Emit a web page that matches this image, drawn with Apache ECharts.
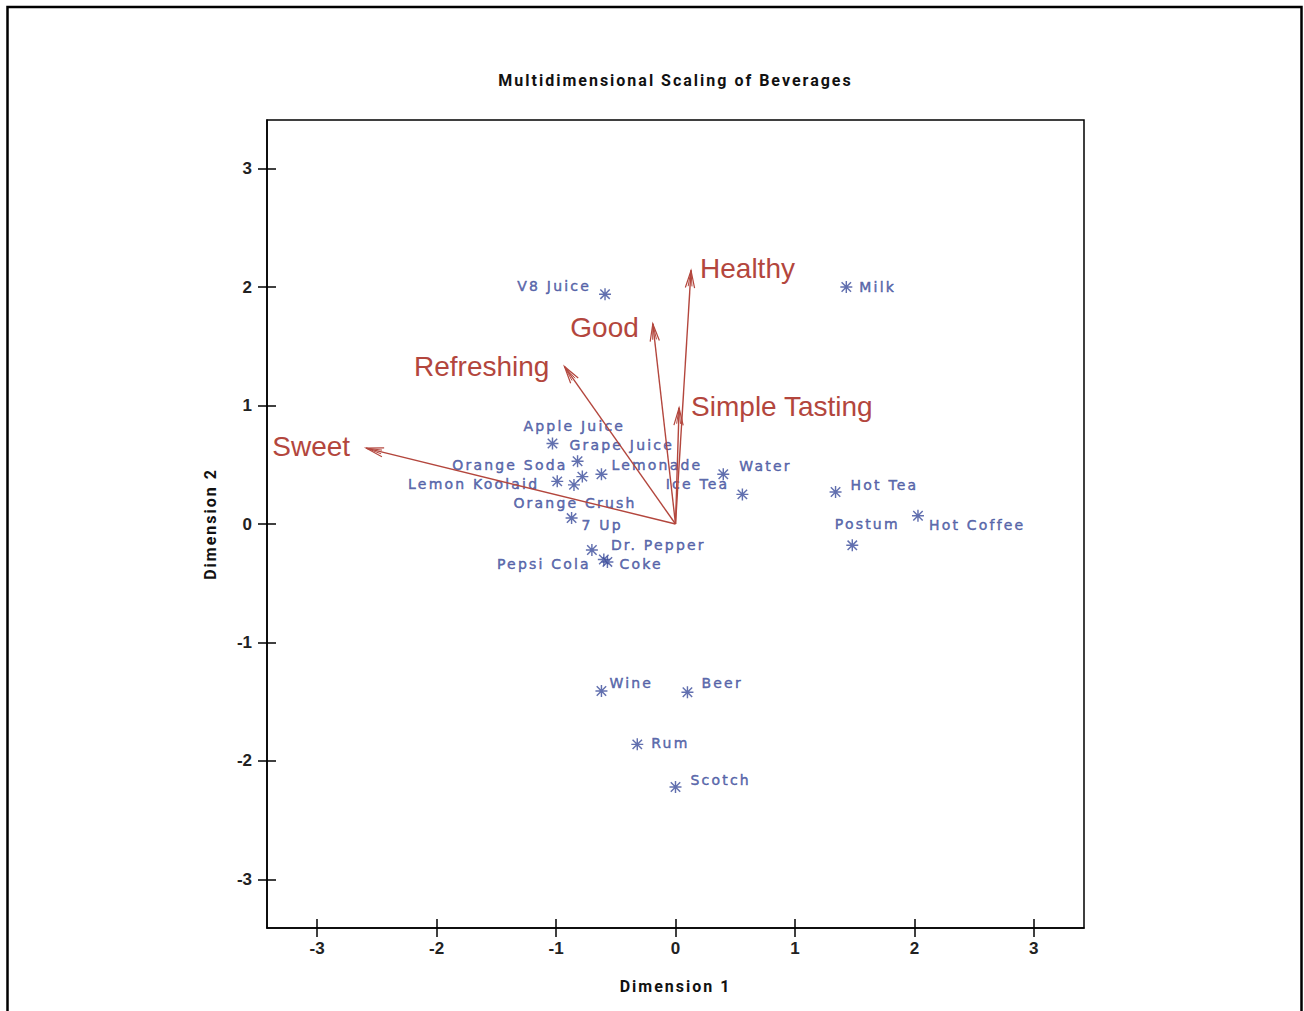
<!DOCTYPE html>
<html><head><meta charset="utf-8">
<script src="https://cdn.jsdelivr.net/npm/echarts@6/dist/echarts.min.js"></script>
<style>
html,body{margin:0;padding:0;background:#fff;}
#chart{width:1304px;height:1011px;}
#chart text[style*="DejaVu Sans"]{letter-spacing:2.2px;}
#chart text[style*="Roboto"]{letter-spacing:2px;}
</style></head><body><div id="chart"></div>
<script>
// ---- data ----
const beverages = ['V8 Juice','Milk','Grape Juice','Orange Soda','Apple Juice','Lemonade','Lemon Koolaid','Orange Crush','7 Up','Dr. Pepper','Pepsi Cola','Coke','Water','Ice Tea','Hot Tea','Hot Coffee','Postum','Wine','Beer','Rum','Scotch'];
const dim1 = [-0.59, 1.43, -1.03, -0.82, -0.78, -0.62, -0.99, -0.85, -0.87, -0.70, -0.60, -0.57, 0.40, 0.56, 1.34, 2.03, 1.48, -0.62, 0.10, -0.32, 0.00];
const dim2 = [1.94, 2.00, 0.68, 0.53, 0.40, 0.42, 0.36, 0.33, 0.05, -0.22, -0.30, -0.32, 0.42, 0.25, 0.27, 0.07, -0.18, -1.41, -1.42, -1.86, -2.22];
const attributes = ['Sweet','Refreshing','Good','Healthy','Simple Tasting'];
const attrDim1 = [-2.59, -0.93, -0.19, 0.13, 0.03];
const attrDim2 = [0.64, 1.33, 1.69, 2.14, 0.98];
const tickValues = [-3, -2, -1, 0, 1, 2, 3];
const titleText = 'Multidimensional Scaling of Beverages';
const xTitle = 'Dimension 1';
const yTitle = 'Dimension 2';

// ---- label placement (style only): [align, dx, dy] in px from the mark ----
const bevLabelPlace = [
  ['right',-14,-8],['left',13,0],['left',17,2],['right',-10,4],['center',-8,-51],
  ['left',10,-9],['right',-18,3],['center',1,18],['left',10,7],['left',19,-5],
  ['right',-13,4],['left',12,2],['left',16,-8],['right',-13,-10],['left',15,-7],
  ['left',11,9],['center',15,-21],['left',8,-8],['left',14,-9],['left',14,-1],['left',15,-7]
];
const attrLabelPlace = [['right',-16,-2],['right',-15,0],['right',-14,4],['left',9,-2],['left',12,-1]];

const BLUE = '#3b4c9b', RED = '#b3463d';
const STAR = 'path://M0 8.8H20V11.2H0Z M8.8 0H11.2V20H8.8Z M1.3 3L3 1.3L18.7 17L17 18.7Z M17 1.3L18.7 3L3 18.7L1.3 17Z';

const chart = echarts.init(document.getElementById('chart'), null, {renderer: 'svg'});

const bevData = beverages.map((n, i) => ({
  name: n,
  value: [dim1[i], dim2[i]],
  label: {align: bevLabelPlace[i][0], offset: [bevLabelPlace[i][1], bevLabelPlace[i][2]]}
}));
const attrData = attributes.map((n, i) => [attrDim1[i], attrDim2[i]]);

const axisCommon = {
  type: 'value',
  splitLine: {show: false},
  axisLine: {onZero: false, lineStyle: {color: '#000', width: 1.5}},
  axisTick: {customValues: tickValues, length: 9, lineStyle: {color: '#000', width: 1.5}},
};
const nameStyle = {fontFamily: 'Roboto', fontWeight: 'bold', fontSize: 16, color: '#111'};
const labStyle = {customValues: tickValues, fontFamily: 'Liberation Sans', fontWeight: 'bold', fontSize: 17, color: '#222'};

chart.setOption({
  animation: false,
  backgroundColor: '#fff',
  grid: {left: 267, right: 220, top: 120, bottom: 83, show: true, borderColor: '#000', borderWidth: 1.5, backgroundColor: 'transparent'},
  graphic: [
    {type: 'rect', shape: {x: 7.5, y: 7, width: 1294, height: 1100}, style: {fill: 'none', stroke: '#000', lineWidth: 2.5}, silent: true},
    {type: 'text', x: 675.5, y: 80, style: {text: titleText, font: 'bold 16px Roboto', fill: '#111', textAlign: 'center', textVerticalAlign: 'middle', align: 'center', verticalAlign: 'middle'}, silent: true}
  ],
  xAxis: [
    Object.assign({}, axisCommon, {min: -3.42, max: 3.42, position: 'bottom',
      axisLabel: Object.assign({margin: 12}, labStyle),
      name: xTitle, nameLocation: 'middle', nameGap: 50, nameTextStyle: nameStyle}),
    {type: 'value', min: -3.42, max: 3.42, position: 'bottom', splitLine: {show: false},
      axisLine: {show: false, onZero: false},
      axisTick: {customValues: tickValues, inside: true, length: 9, lineStyle: {color: '#000', width: 1.5}},
      axisLabel: {show: false}}
  ],
  yAxis: [
    Object.assign({}, axisCommon, {min: -3.41, max: 3.41, position: 'left',
      axisLabel: Object.assign({margin: 15}, labStyle),
      name: yTitle, nameLocation: 'middle', nameGap: 49, nameRotate: 90, nameTextStyle: nameStyle}),
    {type: 'value', min: -3.41, max: 3.41, position: 'left', splitLine: {show: false},
      axisLine: {show: false, onZero: false},
      axisTick: {customValues: tickValues, inside: true, length: 9, lineStyle: {color: '#000', width: 1.5}},
      axisLabel: {show: false}}
  ],
  series: [
    {
      type: 'scatter', xAxisIndex: 0, yAxisIndex: 0, z: 2,
      symbol: STAR, symbolSize: 12,
      itemStyle: {color: BLUE},
      label: {show: true, position: 'inside', formatter: '{b}', color: BLUE,
        fontFamily: 'DejaVu Sans', fontSize: 14, verticalAlign: 'middle',
        textBorderColor: BLUE, textBorderWidth: 0.5},
      emphasis: {disabled: true},
      data: bevData
    },
    {
      type: 'custom', xAxisIndex: 0, yAxisIndex: 0, z: 3, silent: true,
      data: attrData,
      encode: {x: 0, y: 1},
      renderItem: function (params, api) {
        const i = params.dataIndex;
        const tip = api.coord([api.value(0), api.value(1)]);
        const o = api.coord([0, 0]);
        const ang = Math.atan2(o[1] - tip[1], o[0] - tip[0]);
        const barb = (da, len) => [tip[0] + len * Math.cos(ang + da), tip[1] + len * Math.sin(ang + da)];
        const p = attrLabelPlace[i];
        return {
          type: 'group',
          children: [
            {type: 'line', shape: {x1: o[0], y1: o[1], x2: tip[0], y2: tip[1]}, style: {stroke: RED, lineWidth: 1.4}},
            {type: 'polyline', shape: {points: [barb(0.26, 18), tip, barb(-0.26, 18)]}, style: {stroke: RED, lineWidth: 1.2, fill: 'none'}},
            {type: 'polyline', shape: {points: [barb(0.12, 16), tip, barb(-0.12, 16)]}, style: {stroke: RED, lineWidth: 1, fill: 'none'}},
            {type: 'text', x: tip[0] + p[1], y: tip[1] + p[2],
              style: {text: attributes[i], fill: RED, font: '28px "Liberation Sans"', textAlign: p[0], textVerticalAlign: 'middle', align: p[0], verticalAlign: 'middle'}}
          ]
        };
      }
    }
  ]
});
</script></body></html>
